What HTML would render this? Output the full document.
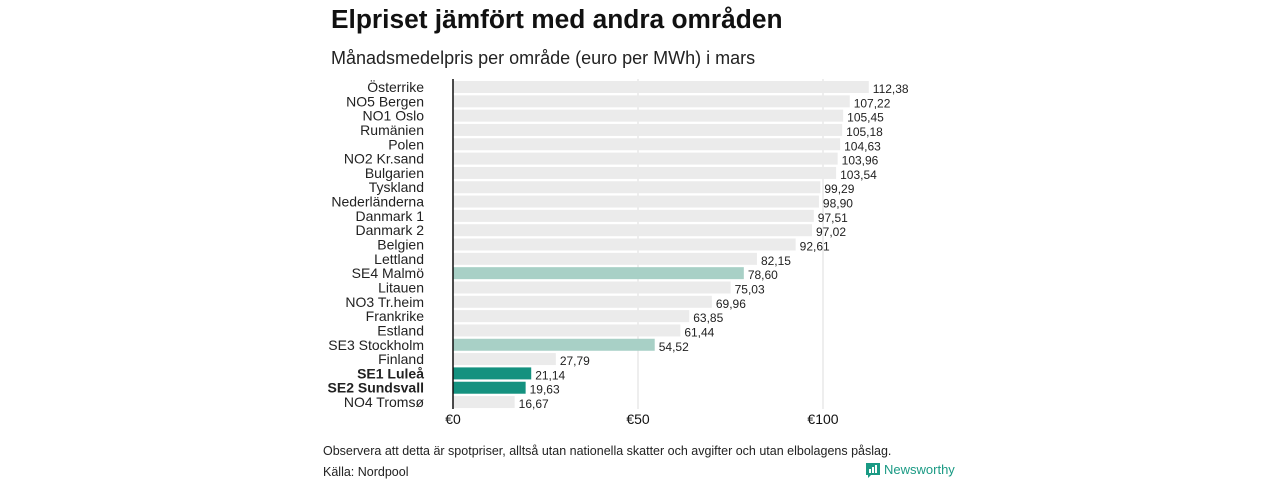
<!DOCTYPE html>
<html><head><meta charset="utf-8"><style>
body{margin:0;width:1280px;height:480px;background:#fff;overflow:hidden;font-family:"Liberation Sans",sans-serif;}
</style></head><body>
<svg width="1280" height="480" id="c" style="position:absolute;left:0;top:0">
<text x="331" y="28" font-size="26.3" font-weight="bold" fill="#111">Elpriset jämfört med andra områden</text>
<text x="331" y="64" font-size="18" fill="#222">Månadsmedelpris per område (euro per MWh) i mars</text>
<g id="grid"></g><g id="bars"></g>
<line x1="453" y1="79" x2="453" y2="409" stroke="#111" stroke-width="1.5"/>
<g id="xt"></g>
<text x="323" y="455" font-size="12.5" fill="#222">Observera att detta är spotpriser, alltså utan nationella skatter och avgifter och utan elbolagens påslag.</text>
<text x="323" y="476" font-size="12.5" fill="#222">Källa: Nordpool</text>
<g>
<path d="M866 463 h14 v12 h-9 l-3 3 v-3 h-2 z" fill="#1a9a84"/>
<rect x="869" y="469" width="2" height="4" fill="#fff"/><rect x="872" y="467" width="2" height="6" fill="#fff"/><rect x="875" y="465" width="2" height="8" fill="#fff"/>
<text x="884" y="474" font-size="13" fill="#1a9a84">Newsworthy</text>
</g>
</svg>
<script>
const categories=["Österrike","NO5 Bergen","NO1 Oslo","Rumänien","Polen","NO2 Kr.sand","Bulgarien","Tyskland","Nederländerna","Danmark  1","Danmark  2","Belgien","Lettland","SE4 Malmö","Litauen","NO3 Tr.heim","Frankrike","Estland","SE3 Stockholm","Finland","SE1 Luleå","SE2 Sundsvall","NO4 Tromsø"];
const values=[112.38,107.22,105.45,105.18,104.63,103.96,103.54,99.29,98.90,97.51,97.02,92.61,82.15,78.60,75.03,69.96,63.85,61.44,54.52,27.79,21.14,19.63,16.67];
const highlight=["","","","","","","","","","","","","","light","","","","","light","","dark","dark",""];
const xTicks=[0,50,100];
const xTickLabels=["€0","€50","€100"];
const NS="http://www.w3.org/2000/svg";
const x=v=>453+v*3.7;
const y=i=>87+i*14.32;
function mk(t,a,p){const e=document.createElementNS(NS,t);for(const k in a)e.setAttribute(k,a[k]);p.appendChild(e);return e;}
const g=document.getElementById('bars'),gr=document.getElementById('grid'),xt=document.getElementById('xt');
xTicks.forEach((t,i)=>{
 if(t>0){const l=mk('line',{x1:x(t),x2:x(t),y1:79,y2:409,stroke:'#ddd','stroke-width':1},gr);
 
 }
 const tx=mk('text',{x:x(t),y:424,'font-size':14,'text-anchor':'middle',fill:'#111'},xt);
 tx.textContent=xTickLabels[i];
 
 
});
categories.forEach((c,i)=>{
 const col=highlight[i]=='dark'?'#14917f':highlight[i]=='light'?'#a8d0c6':'#ebebeb';
 const r=mk('rect',{x:453,y:y(i)-6,width:x(values[i])-453,height:12,fill:col},g);
 
 
 const lb=mk('text',{x:424,y:y(i)+5,'font-size':14,'text-anchor':'end',fill:'#222','font-weight':highlight[i]=='dark'?'bold':'normal'},g);
 lb.textContent=c;
 
 
 const vl=mk('text',{x:x(values[i])+4,y:y(i)+6,'font-size':12,fill:'#222'},g);
 vl.textContent=values[i].toFixed(2).replace('.',',');
 
 
});
</script>
</body></html>
